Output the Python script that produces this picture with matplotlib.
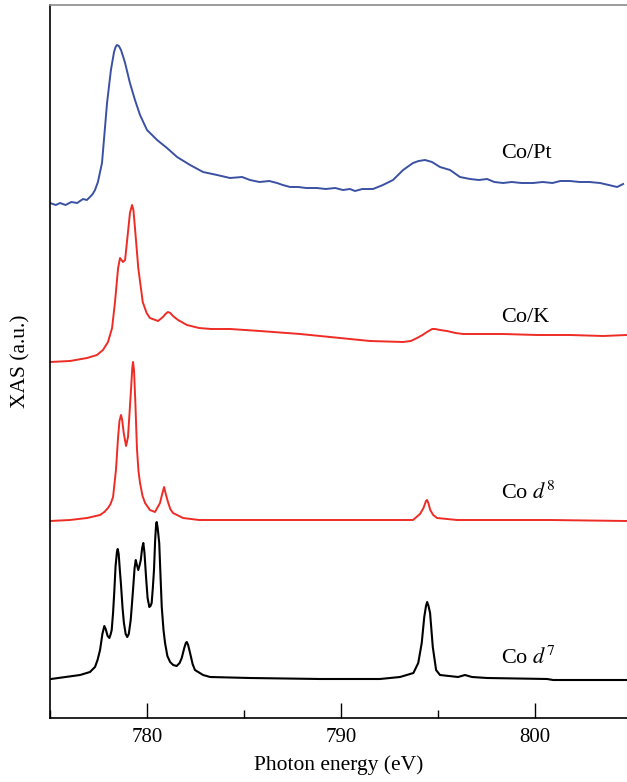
import numpy as np
import matplotlib
matplotlib.use("Agg")
from matplotlib import pyplot as plt
from matplotlib.ticker import MultipleLocator

# photon energy (eV) and XAS intensity (a.u., stacked) for each spectrum
co_pt_energy = [775.0, 775.3, 775.52, 775.8, 776.1, 776.4, 776.7, 776.9, 777.06, 777.2,
                777.32, 777.47, 777.58, 777.68, 777.78, 777.94, 778.14, 778.30, 778.38, 778.45,
                778.55, 778.66, 778.76, 778.87, 779.12, 779.38, 779.64, 780.00, 780.52, 781.03,
                781.55, 782.22, 782.89, 783.61, 784.28, 784.90, 785.31, 785.8, 786.3, 786.70,
                787.0, 787.37, 787.8, 788.2, 788.76, 789.2, 789.7, 790.1, 790.46, 790.72,
                791.1, 791.65, 792.16, 792.68, 793.20, 793.71, 794.0, 794.33, 794.69, 795.10,
                795.62, 796.13, 796.65, 797.1, 797.53, 797.9, 798.35, 798.8, 799.3, 799.90,
                800.4, 800.9, 801.3, 801.80, 802.3, 802.8, 803.35, 803.8, 804.23, 804.54]
co_pt_xas = [5.15, 5.13, 5.15, 5.13, 5.16, 5.15, 5.19, 5.18, 5.21, 5.24,
             5.28, 5.36, 5.46, 5.55, 5.78, 6.15, 6.48, 6.66, 6.71, 6.73,
             6.72, 6.68, 6.62, 6.55, 6.35, 6.18, 6.03, 5.88, 5.78, 5.70,
             5.61, 5.53, 5.46, 5.43, 5.40, 5.41, 5.38, 5.36, 5.37, 5.35,
             5.33, 5.31, 5.31, 5.30, 5.30, 5.29, 5.30, 5.28, 5.29, 5.27,
             5.29, 5.29, 5.33, 5.38, 5.48, 5.55, 5.57, 5.58, 5.56, 5.51,
             5.48, 5.41, 5.39, 5.38, 5.39, 5.36, 5.35, 5.36, 5.35, 5.35,
             5.36, 5.35, 5.37, 5.37, 5.36, 5.36, 5.35, 5.33, 5.31, 5.34]

co_k_energy = [775.0, 776.03, 776.91, 777.42, 777.73, 777.99, 778.20, 778.35, 778.51, 778.61,
               778.76, 778.87, 779.02, 779.12, 779.23, 779.30, 779.38, 779.55, 779.78, 779.98,
               780.15, 780.57, 780.82, 780.95, 781.08, 781.20, 781.34, 781.60, 782.06, 782.68,
               783.30, 784.28, 785.82, 787.89, 789.95, 791.49, 793.20, 793.60, 793.92, 794.20,
               794.43, 794.70, 794.85, 795.10, 795.46, 795.90, 796.29, 798.35, 800.10, 801.80,
               803.51, 804.74]
co_k_xas = [3.56, 3.57, 3.60, 3.63, 3.68, 3.76, 3.90, 4.16, 4.50, 4.60,
            4.56, 4.58, 4.86, 5.05, 5.13, 5.08, 4.90, 4.50, 4.16, 4.05,
            4.00, 3.97, 4.01, 4.04, 4.06, 4.05, 4.02, 3.98, 3.93, 3.90,
            3.89, 3.89, 3.87, 3.84, 3.80, 3.77, 3.76, 3.77, 3.80, 3.83,
            3.86, 3.89, 3.89, 3.88, 3.87, 3.85, 3.84, 3.84, 3.83, 3.83,
            3.82, 3.83]

co_d8_energy = [775.0, 776.03, 776.91, 777.58, 777.80, 777.99, 778.12, 778.25, 778.40, 778.51,
                778.58, 778.66, 778.72, 778.80, 778.92, 779.02, 779.10, 779.18, 779.24, 779.28,
                779.33, 779.40, 779.48, 779.56, 779.64, 779.77, 779.90, 780.15, 780.41, 780.67,
                780.77, 780.88, 780.98, 781.08, 781.20, 781.34, 781.86, 782.68, 787.89, 793.71,
                794.07, 794.25, 794.38, 794.43, 794.50, 794.60, 794.75, 794.95, 795.98, 800.77,
                804.74]
co_d8_xas = [1.97, 1.98, 2.00, 2.03, 2.06, 2.10, 2.14, 2.21, 2.48, 2.81,
             2.97, 3.03, 2.98, 2.85, 2.72, 2.81, 3.05, 3.30, 3.50, 3.56,
             3.48, 3.15, 2.70, 2.47, 2.35, 2.22, 2.15, 2.08, 2.06, 2.15,
             2.23, 2.31, 2.23, 2.16, 2.09, 2.05, 2.00, 1.98, 1.98, 1.98,
             2.04, 2.10, 2.17, 2.18, 2.15, 2.08, 2.03, 2.00, 1.98, 1.98,
             1.97]

co_d7_energy = [775.05, 776.55, 777.06, 777.32, 777.45, 777.58, 777.70, 777.80, 777.87, 777.97,
                778.06, 778.13, 778.18, 778.25, 778.31, 778.38, 778.45, 778.49, 778.54, 778.60,
                778.66, 778.74, 778.81, 778.90, 778.98, 779.06, 779.16, 779.22, 779.29, 779.36,
                779.42, 779.48, 779.55, 779.62, 779.68, 779.75, 779.81, 779.87, 779.95, 780.03,
                780.12, 780.18, 780.24, 780.30, 780.36, 780.42, 780.47, 780.50, 780.55, 780.63,
                780.70, 780.76, 780.85, 780.93, 781.05, 781.19, 781.35, 781.53, 781.68, 781.79,
                781.92, 782.00, 782.05, 782.12, 782.22, 782.35, 782.47, 782.89, 783.25, 785.31,
                788.92, 792.01, 793.04, 793.73, 793.98, 794.16, 794.29, 794.38, 794.44, 794.51,
                794.59, 794.73, 794.90, 795.10, 796.03, 796.39, 796.75, 797.53, 800.62, 800.93,
                804.74]
co_d7_xas = [0.39, 0.43, 0.46, 0.51, 0.58, 0.68, 0.84, 0.92, 0.89, 0.82,
             0.80, 0.84, 0.88, 1.05, 1.25, 1.52, 1.66, 1.69, 1.64, 1.48,
             1.33, 1.10, 0.95, 0.84, 0.81, 0.84, 0.98, 1.13, 1.31, 1.50,
             1.58, 1.53, 1.48, 1.53, 1.58, 1.70, 1.75, 1.65, 1.41, 1.20,
             1.11, 1.12, 1.15, 1.30, 1.48, 1.78, 1.94, 1.96, 1.90, 1.75,
             1.40, 1.11, 0.88, 0.75, 0.62, 0.56, 0.53, 0.52, 0.55, 0.60,
             0.70, 0.75, 0.76, 0.73, 0.65, 0.54, 0.48, 0.43, 0.41, 0.40,
             0.39, 0.39, 0.41, 0.45, 0.55, 0.75, 1.01, 1.12, 1.16, 1.12,
             1.05, 0.71, 0.48, 0.43, 0.41, 0.43, 0.41, 0.40, 0.39, 0.38,
             0.38]

labels = ["Co/Pt", "Co/K", "Co $d^{8}$", "Co $d^{7}$"]
label_y = [5.64, 4.00, 2.25, 0.60]

plt.rcParams["font.family"] = ["Liberation Serif", "DejaVu Serif"]
plt.rcParams["mathtext.fontset"] = "stix"

fig = plt.figure(figsize=(6.27, 7.82), dpi=100)
ax = fig.add_axes([50 / 627, 1 - 718 / 782, 577 / 627, 713 / 782])

ax.plot(co_pt_energy, co_pt_xas, color="#3a51a3", lw=1.4)
ax.plot(co_k_energy, co_k_xas, color="#ee2c26", lw=1.4)
ax.plot(co_d8_energy, co_d8_xas, color="#ee2c26", lw=1.4)
ax.plot(co_d7_energy, co_d7_xas, color="black", lw=1.5)

for text, y in zip(labels, label_y):
    ax.text(798.25, y, text, fontsize=16, va="center", ha="left")

ax.set_xlim(775, 804.74)
ax.set_ylim(0, 7.13)
ax.xaxis.set_major_locator(MultipleLocator(10))
ax.xaxis.set_minor_locator(MultipleLocator(5))
ax.tick_params(axis="x", which="major", direction="in", length=11, width=1, labelsize=15, pad=7)
ax.tick_params(axis="x", which="minor", direction="in", length=6, width=1)
ax.set_yticks([])

ax.spines["right"].set_visible(False)
ax.spines["top"].set_color("#8a8a8a")
for side in ["left", "bottom", "top"]:
    ax.spines[side].set_linewidth(1.2)

ax.set_xlabel("Photon energy (eV)", fontsize=15.5, labelpad=6)
ax.set_ylabel("XAS (a.u.)", fontsize=15.5, labelpad=14)

fig.savefig("out.png", dpi=100)
